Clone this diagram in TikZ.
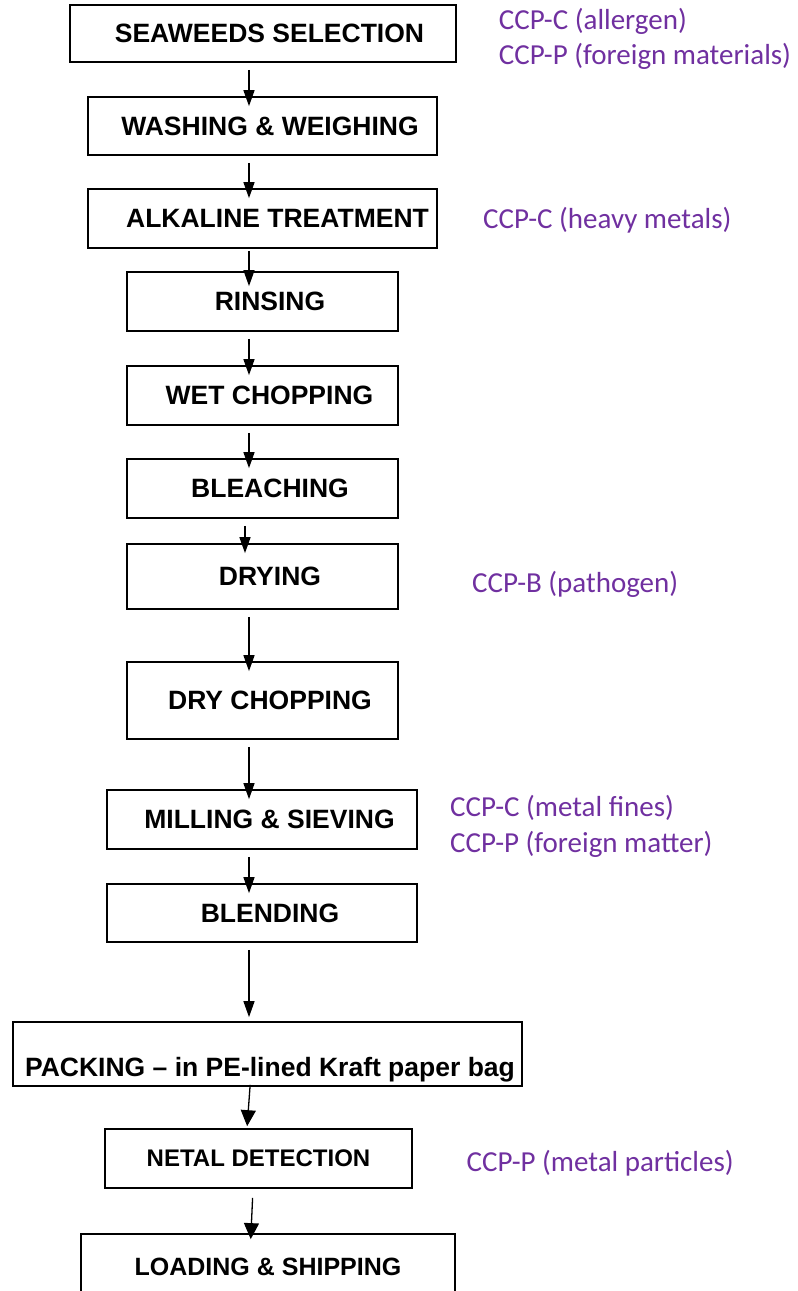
\documentclass[tikz,border=0pt]{standalone}
\usepackage{fontspec}
\usepackage{tikz}
\usetikzlibrary{arrows.meta}
\newfontfamily\boxface{Liberation Sans}
\newfontfamily\ccpface{Carlito}
\definecolor{ccppurple}{HTML}{7030A0}
\tikzset{
	stage/.style={draw,line width=1.7pt,inner sep=2pt,font=\boxface\bfseries\fontsize{26.5}{30}\selectfont},
	flow/.style={-{Triangle[length=16pt,width=11pt]},line width=1.3pt,shorten <=7pt,shorten >=-10pt},
	bigflow/.style={-{Triangle[length=16pt,width=15pt]},line width=1.3pt},
	ccp/.style={anchor=base west,text=ccppurple,inner sep=0pt,font=\ccpface\fontsize{29}{34}\selectfont}
}
\newcommand{\lead}[1]{\hspace*{#1pt}}

\begin{document}
\begin{tikzpicture}[x=1pt,y=-1pt]
				\clip (0,0) rectangle (798,1291);
				\coordinate (spine) at (249,0);
				
				\node[stage,minimum width=386pt,minimum height=57pt] (sel) at (263,33.5) {\lead{13}SEAWEEDS SELECTION};
				\node[stage,minimum width=349pt,minimum height=58pt] (wash) at (262.5,126) {\lead{15}WASHING \& WEIGHING};
				\node[stage,minimum width=349pt,minimum height=59pt] (alk) at (262.5,218.5) {\lead{30}ALKALINE TREATMENT};
				\node[stage,minimum width=271pt,minimum height=59pt] (rins) at (262.5,301.5) {\lead{15}RINSING};
				\node[stage,minimum width=271pt,minimum height=59pt] (wet) at (262.5,395.5) {\lead{14}WET CHOPPING};
				\node[stage,minimum width=271pt,minimum height=59pt] (bleach) at (262.5,488.5) {\lead{15}BLEACHING};
				\node[stage,minimum width=271pt,minimum height=65pt] (dry) at (262.5,576.5) {\lead{15}DRYING};
				\node[stage,minimum width=271pt,minimum height=77pt] (drychop) at (262.5,700.5) {\lead{15}DRY CHOPPING};
				\node[stage,minimum width=310pt,minimum height=59pt] (mill) at (262,819.5) {\lead{15}MILLING \& SIEVING};
				\node[stage,minimum width=310pt,minimum height=58pt] (blend) at (262,913) {\lead{16}BLENDING};
				\node[stage,minimum width=509pt,minimum height=64pt,text height=50pt,text depth=6pt] (pack) at (267.5,1054) {\lead{5}PACKING – in PE-lined Kraft paper bag};
				\node[stage,minimum width=307pt,minimum height=59pt,font=\boxface\bfseries\fontsize{24}{28}\selectfont] (netal) at (258.5,1158.5) {NETAL DETECTION};
				\node[stage,minimum width=374pt,minimum height=66pt,font=\boxface\bfseries\fontsize{25}{29}\selectfont] (load) at (268,1267) {LOADING \& SHIPPING};
				
				\foreach \a/\b in {sel/wash,wash/alk,rins/wet,wet/bleach,dry/drychop,drychop/mill,mill/blend}
				\draw[flow] (\a.south -| spine) -- (\b.north -| spine);
				\draw[flow,shorten <=2pt,shorten >=-15pt] (alk.south -| spine) -- (rins.north -| spine);
				\draw[flow] (bleach.south -| 245,0) -- (dry.north -| 245,0);
				\draw[flow,shorten >=4pt] (blend.south -| spine) -- (pack.north -| spine);
				\draw[bigflow,shorten <=-2pt,shorten >=2pt] (pack.south -| 250,0) -- (netal.north -| 247,0);
				\draw[bigflow,shorten <=9pt,shorten >=-6pt] (netal.south -| 253,0) -- (load.north -| 251,0);
				
				\node[ccp] (ccpA) at (498.7,29.3) {CCP-C (allergen)};
				\node[ccp] (ccpB) at (498.7,64.3) {CCP-P (foreign materials)};
				\node[ccp] (ccpC) at (483,228) {CCP-C (heavy metals)};
				\node[ccp] (ccpD) at (472,592) {CCP-B (pathogen)};
				\node[ccp] (ccpE) at (450,816.7) {CCP-C (metal fines)};
				\node[ccp] (ccpF) at (450,852.7) {CCP-P (foreign matter)};
				\node[ccp] (ccpG) at (466.5,1171.7) {CCP-P (metal particles)};
\end{tikzpicture}
\end{document}
